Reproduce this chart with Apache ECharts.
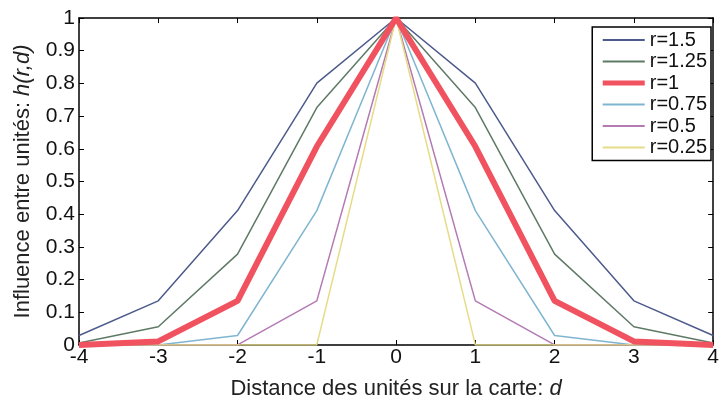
<!DOCTYPE html>
<html>
<head>
<meta charset="utf-8">
<script src="https://cdn.jsdelivr.net/npm/echarts@6/dist/echarts.min.js"></script>
<style>
html,body{margin:0;padding:0;background:#fff;}
#chart{width:722px;height:405px;}
</style>
</head>
<body>
<div id="chart"></div>
<script>
var distances = [-4, -3, -2, -1, 0, 1, 2, 3, 4];
var seriesNames = ['r=1.5', 'r=1.25', 'r=1', 'r=0.75', 'r=0.5', 'r=0.25'];
var r150 = [0.029, 0.135, 0.411, 0.801, 1, 0.801, 0.411, 0.135, 0.029];
var r125 = [0.006, 0.056, 0.278, 0.726, 1, 0.726, 0.278, 0.056, 0.006];
var r100 = [0.0003, 0.011, 0.135, 0.607, 1, 0.607, 0.135, 0.011, 0.0003];
var r075 = [0, 0, 0.029, 0.411, 1, 0.411, 0.029, 0, 0];
var r050 = [0, 0, 0.0003, 0.135, 1, 0.135, 0.0003, 0, 0];
var r025 = [0, 0, 0, 0.0003, 1, 0.0003, 0, 0, 0];

var allValues = [r150, r125, r100, r075, r050, r025];
var colors = ['#4c5a8c', '#5e7a66', '#f0525f', '#7fb5d0', '#b47ab4', '#e6dc88'];
var widths = [1.5, 1.5, 6, 1.5, 1.5, 1.5];

var font = 'Liberation Sans, Arial, sans-serif';

function pairs(vals) {
    var out = [];
    for (var i = 0; i < distances.length; i++) {
        out.push([distances[i], vals[i]]);
    }
    return out;
}

var series = [];
var legendData = [];
for (var k = 0; k < seriesNames.length; k++) {
    series.push({
        name: seriesNames[k],
        type: 'line',
        data: pairs(allValues[k]),
        symbol: 'none',
        z: k == 2 ? 3 : 2,
        lineStyle: {color: colors[k], width: widths[k]},
        itemStyle: {color: colors[k]}
    });
    legendData.push({
        name: seriesNames[k],
        lineStyle: {color: colors[k], width: k == 2 ? 5 : 2}
    });
}

var chart = echarts.init(document.getElementById('chart'));

var option = {
    backgroundColor: '#fff',
    animation: false,
    grid: {left: 79, right: 5, top: 18, bottom: 56},
    legend: {
        data: legendData,
        orient: 'vertical',
        right: 11,
        top: 27,
        itemWidth: 42,
        itemHeight: 14,
        itemGap: 1.5,
        padding: [3, 4, 3, 8],
        backgroundColor: '#fff',
        borderColor: '#000',
        borderWidth: 1.5,
        itemStyle: {opacity: 0},
        formatter: '{a|{name}}',
        textStyle: {fontFamily: font, fontSize: 20, color: '#111',
            rich: {a: {fontFamily: font, fontSize: 20, color: '#111', width: 80}}}
    },
    xAxis: [{
        type: 'value',
        min: -4, max: 4, interval: 1,
        name: 'Distance des unités sur la carte: {i|d}',
        nameLocation: 'middle',
        nameGap: 33,
        nameTextStyle: {fontFamily: font, fontSize: 22, color: '#222',
            rich: {i: {fontFamily: font, fontSize: 22, fontStyle: 'italic', color: '#222'}}},
        axisLine: {onZero: false, lineStyle: {color: '#000', width: 1.5}},
        axisTick: {inside: true, length: 5, lineStyle: {color: '#000'}},
        axisLabel: {fontFamily: font, fontSize: 21, color: '#111', margin: 2},
        splitLine: {show: false}
    }, {
        type: 'value', position: 'top',
        min: -4, max: 4, interval: 1,
        axisLine: {onZero: false, lineStyle: {color: '#000', width: 1.5}},
        axisTick: {inside: true, length: 5, lineStyle: {color: '#000'}},
        axisLabel: {show: false},
        splitLine: {show: false}
    }],
    yAxis: [{
        type: 'value',
        min: 0, max: 1, interval: 0.1,
        name: 'Influence entre unités: {i|h(r,d)}',
        nameLocation: 'middle',
        nameGap: 45,
        nameTextStyle: {fontFamily: font, fontSize: 22, color: '#222',
            rich: {i: {fontFamily: font, fontSize: 22, fontStyle: 'italic', color: '#222'}}},
        axisLine: {show: true, onZero: false, lineStyle: {color: '#000', width: 1.5}},
        axisTick: {show: true, inside: true, length: 5, lineStyle: {color: '#000'}},
        axisLabel: {fontFamily: font, fontSize: 21, color: '#111', margin: 4,
            formatter: function (v) { return String(Math.round(v * 10) / 10); }},
        splitLine: {show: false}
    }, {
        type: 'value', position: 'right',
        min: 0, max: 1, interval: 0.1,
        axisLine: {show: true, onZero: false, lineStyle: {color: '#000', width: 1.5}},
        axisTick: {show: true, inside: true, length: 5, lineStyle: {color: '#000'}},
        axisLabel: {show: false},
        splitLine: {show: false}
    }],
    series: series
};
chart.setOption(option);
</script>
</body>
</html>
